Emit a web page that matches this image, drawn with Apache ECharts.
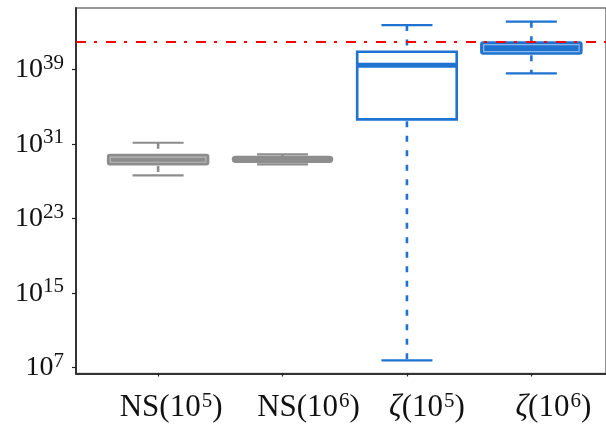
<!DOCTYPE html>
<html>
<head>
<meta charset="utf-8">
<script src="https://cdn.jsdelivr.net/npm/echarts@6/dist/echarts.min.js"></script>
<style>
  html, body { margin: 0; padding: 0; background: #fff; }
  #chart { width: 606px; height: 426px; }
</style>
</head>
<body>
<div id="chart"></div>
<script>
// Box statistics, stored as base-10 exponents of the values
const categories = ['NS(10^5)', 'NS(10^6)', 'ζ(10^5)', 'ζ(10^6)'];
const positions = [1, 2, 3, 4];
const whiskerLow = [27.66, 28.84, 7.79, 38.61];
const q1 = [28.87, 29.09, 33.67, 40.76];
const median = [29.33, 29.38, 39.48, 41.33];
const q3 = [29.81, 29.66, 40.93, 41.90];
const whiskerHigh = [31.16, 29.91, 43.80, 44.16];
const thresholdExp = 41.97;
const yTickExps = [7, 15, 23, 31, 39];

const GRAY = '#8d8d8d';
const GRAY_LIGHT = '#b9b9b9';
const BLUE = '#1f72d0';
const BLUE_LIGHT = '#8ab8ea';
// 'filled' boxes are solid with a light inset outline; 'open' boxes are white with a thick median
const boxStyle = ['filledGray', 'filledGray', 'openBlue', 'filledBlue'];

const boxData = positions.map((p, i) => [p, whiskerLow[i], q1[i], median[i], q3[i], whiskerHigh[i], i]);

const serif = 'Liberation Serif';

function renderBox(params, api) {
  const x = api.value(0);
  const idx = api.value(6);
  const unit = api.size([1, 0])[0];
  const boxW = unit * 0.80;
  const capW = unit * 0.41;
  const pLow = api.coord([x, api.value(1)]);
  const pQ1 = api.coord([x, api.value(2)]);
  const pMed = api.coord([x, api.value(3)]);
  const pQ3 = api.coord([x, api.value(4)]);
  const pHigh = api.coord([x, api.value(5)]);
  const cx = pMed[0];
  const style = boxStyle[idx];
  const main = style === 'filledGray' ? GRAY : BLUE;
  const light = style === 'filledGray' ? GRAY_LIGHT : BLUE_LIGHT;
  const children = [];
  const dash = [6, 8.5];
  // whiskers (drawn from the caps towards the box)
  children.push({
    type: 'line', shape: { x1: cx, y1: pHigh[1], x2: cx, y2: pQ3[1] },
    style: { stroke: main, lineWidth: 2.6, lineDash: dash }
  });
  children.push({
    type: 'line', shape: { x1: cx, y1: pQ1[1] + 2, x2: cx, y2: pLow[1] },
    style: { stroke: main, lineWidth: 2.6, lineDash: dash }
  });
  // caps
  children.push({
    type: 'line', shape: { x1: cx - capW / 2, y1: pHigh[1], x2: cx + capW / 2, y2: pHigh[1] },
    style: { stroke: main, lineWidth: 2.2 }
  });
  children.push({
    type: 'line', shape: { x1: cx - capW / 2, y1: pLow[1], x2: cx + capW / 2, y2: pLow[1] },
    style: { stroke: main, lineWidth: 2.2 }
  });
  const top = pQ3[1], bottom = pQ1[1];
  const h = Math.max(bottom - top, 1);
  if (style === 'openBlue') {
    children.push({
      type: 'rect', shape: { x: cx - boxW / 2, y: top, width: boxW, height: h },
      style: { fill: '#fff', stroke: main, lineWidth: 2.6 }
    });
    children.push({
      type: 'line', shape: { x1: cx - boxW / 2, y1: pMed[1], x2: cx + boxW / 2, y2: pMed[1] },
      style: { stroke: main, lineWidth: 5 }
    });
  } else {
    const thin = h < 8;
    children.push({
      type: 'rect', shape: { x: cx - boxW / 2, y: top, width: boxW, height: h, r: thin ? h / 2 + 1 : 1.5 },
      style: { fill: main, stroke: main, lineWidth: thin ? 2 : 3, lineJoin: 'round' }
    });
    if (!thin) {
      children.push({
        type: 'rect', shape: { x: cx - boxW / 2 + 2, y: top + 1.8, width: boxW - 4, height: h - 3.6 },
        style: { fill: 'none', stroke: light, lineWidth: 1.2 }
      });
    }
  }
  return { type: 'group', children };
}

const xLabelPad = [26, 52, 40, 44];
const xRich = {};
xLabelPad.forEach((p, i) => {
  xRich['a' + i] = { fontFamily: serif, fontSize: 31, color: '#111', padding: [0, 0, 0, p] };
  xRich['z' + i] = { fontFamily: serif, fontSize: 31, fontStyle: 'italic', color: '#111', padding: [0, 0, 0, p] };
});
xRich.b = { fontFamily: serif, fontSize: 31, color: '#111' };
xRich.s = { fontFamily: serif, fontSize: 21, color: '#111', padding: [0, 0, 14, 1] };

function xLabel(value) {
  const i = positions.indexOf(Math.round(value));
  if (i < 0) return '';
  const name = categories[i];
  const m = name.match(/^(.*)\(10\^(\d+)\)$/);
  const head = m[1];
  const exp = m[2];
  const headTok = head === 'ζ' ? '{z' + i + '|ζ}{b|(10}' : '{a' + i + '|' + head + '(10}';
  return headTok + '{s|' + exp + '}{b|)}';
}

const chart = echarts.init(document.getElementById('chart'), null, { renderer: 'canvas' });
chart.setOption({
  animation: false,
  backgroundColor: '#fff',
  grid: {
    left: 76, top: 8, right: 0, bottom: 52.5,
    show: true, borderColor: '#777', borderWidth: 1.6, backgroundColor: 'transparent'
  },
  xAxis: {
    type: 'value', min: 0.34, max: 4.6,
    splitLine: { show: false },
    axisLine: { show: true, lineStyle: { color: '#333', width: 2 } },
    axisTick: { show: true, customValues: positions, length: 3, inside: false, lineStyle: { color: '#222', width: 1.2 } },
    axisLabel: {
      customValues: positions, formatter: xLabel, margin: 17, rich: xRich
    }
  },
  yAxis: {
    type: 'value', min: 6.38, max: 45.63,
    splitLine: { show: false },
    axisLine: { show: true, lineStyle: { color: '#333', width: 2 } },
    axisTick: { show: true, customValues: yTickExps, length: 4, lineStyle: { color: '#222', width: 1.2 } },
    axisLabel: {
      customValues: yTickExps, margin: 12,
      formatter: v => '{b|10}{s|' + v + '}',
      rich: {
        b: { fontFamily: serif, fontSize: 28, color: '#111' },
        s: { fontFamily: serif, fontSize: 21, color: '#111', padding: [0, 0, 13, 0] }
      }
    }
  },
  series: [{
    type: 'custom',
    renderItem: renderBox,
    data: boxData,
    encode: { x: 0, y: [1, 2, 3, 4, 5] },
    clip: false,
    z: 3,
    markLine: {
      silent: true,
      symbol: 'none',
      label: { show: false },
      lineStyle: { color: '#ff0000', width: 2, type: [10, 8, 3, 9] },
      data: [{ yAxis: thresholdExp }],
      z: 5
    }
  }]
});
</script>
</body>
</html>
